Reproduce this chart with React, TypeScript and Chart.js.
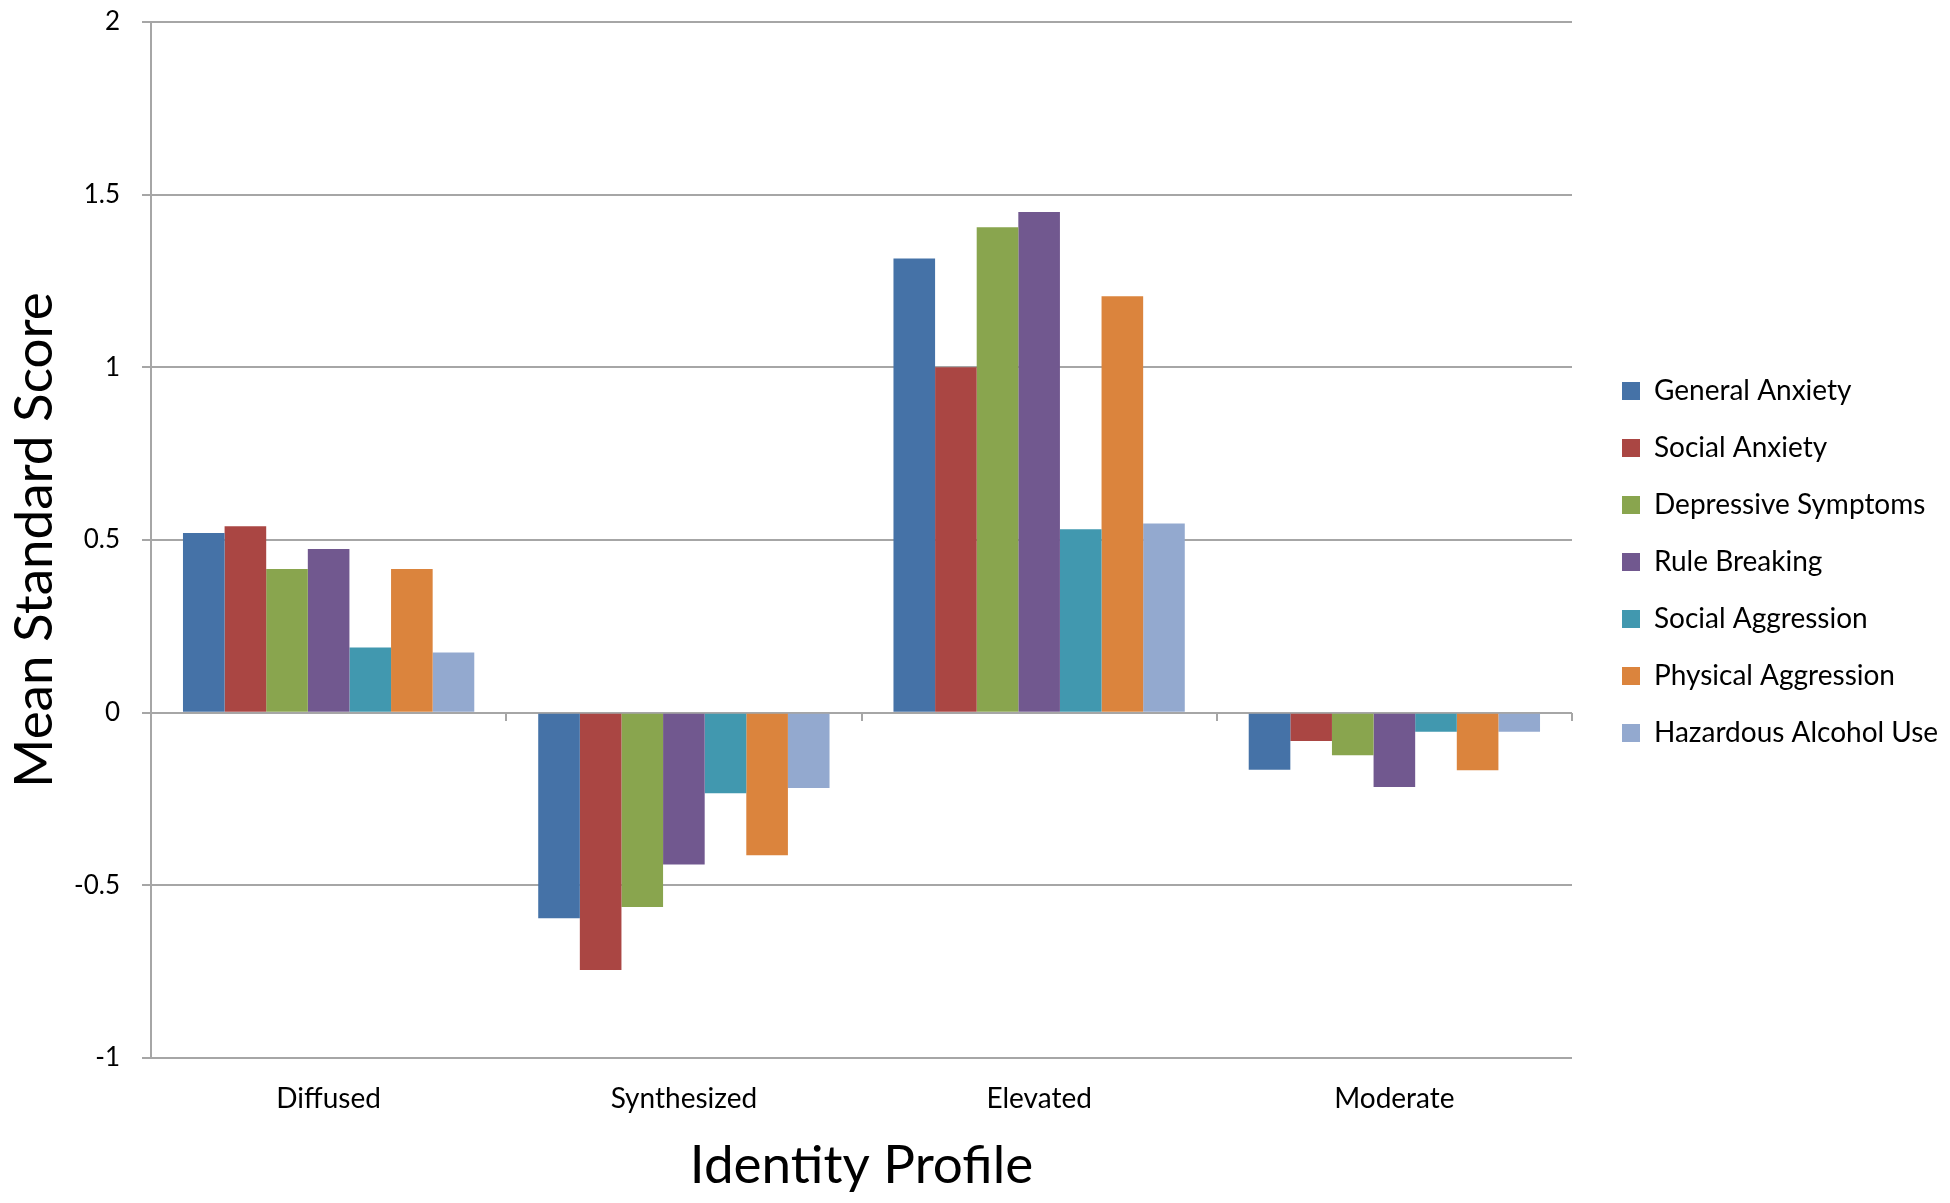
import React, { useEffect, useRef } from 'react';
import { Chart, registerables } from 'chart.js';

Chart.register(...registerables);

// ---- data ----
const categories = ['Diffused', 'Synthesized', 'Elevated', 'Moderate'];
const seriesNames = [
  'General Anxiety',
  'Social Anxiety',
  'Depressive Symptoms',
  'Rule Breaking',
  'Social Aggression',
  'Physical Aggression',
  'Hazardous Alcohol Use',
];
const generalAnxiety = [0.52, -0.595, 1.315, -0.165];
const socialAnxiety = [0.54, -0.745, 1.0, -0.082];
const depressiveSymptoms = [0.416, -0.563, 1.406, -0.123];
const ruleBreaking = [0.474, -0.44, 1.45, -0.215];
const socialAggression = [0.189, -0.233, 0.531, -0.055];
const physicalAggression = [0.416, -0.413, 1.206, -0.167];
const hazardousAlcoholUse = [0.174, -0.218, 0.548, -0.055];
const seriesValues = [
  generalAnxiety,
  socialAnxiety,
  depressiveSymptoms,
  ruleBreaking,
  socialAggression,
  physicalAggression,
  hazardousAlcoholUse,
];
const seriesColors = ['#4572A7', '#AA4643', '#89A54E', '#71588F', '#4198AF', '#DB843D', '#93A9CF'];
const yMin = -1;
const yMax = 2;
const yStep = 0.5;

// ---- style ----
const FONT = "Lato, 'Open Sans', sans-serif";
const GRID = '#a6a6a6';
const CANVAS_W = 1934;
const CANVAS_H = 1187;
const LEGEND_FONT = 28;
const LEGEND_PAD = 29;

const legendPlace = {
  id: 'legendPlace',
  afterLayout(chart: any) {
    const lg = chart.legend;
    if (!lg) return;
    const ca = chart.chartArea;
    const w = lg.width;
    lg.left = ca.right + 50 - LEGEND_PAD;
    lg.right = lg.left + w;
    lg.top = 383 - LEGEND_FONT / 2 - LEGEND_PAD;
    lg.bottom = lg.top + 700;
    lg.height = 700;
  },
};

export default function App() {
  const ref = useRef<HTMLCanvasElement>(null);

  useEffect(() => {
    const canvas = ref.current;
    if (!canvas) return;
    const chart = new Chart(canvas, {
      type: 'bar',
      data: {
        labels: categories,
        datasets: seriesNames.map((name, i) => ({
          label: name,
          data: seriesValues[i],
          backgroundColor: seriesColors[i],
          borderWidth: 0,
          barPercentage: 1,
          categoryPercentage: 0.82,
          xAxisID: 'x',
          yAxisID: 'y',
        })),
      },
      options: {
        responsive: false,
        animation: false,
        events: [],
        layout: { padding: { top: 14, right: 370, bottom: 0, left: 0 } },
        plugins: {
          legend: {
            display: true,
            position: 'chartArea' as any,
            align: 'start',
            labels: {
              boxWidth: 18,
              boxHeight: 18,
              padding: LEGEND_PAD,
              color: '#000',
              font: { family: FONT, size: LEGEND_FONT },
            },
          },
          tooltip: { enabled: false },
        },
        scales: {
          x: {
            type: 'category',
            position: 'bottom',
            offset: true,
            grid: { display: false, drawTicks: false, offset: true },
            border: { display: false },
            ticks: { font: { family: FONT, size: 28 }, color: '#000', padding: 24 },
            title: {
              display: true,
              text: 'Identity Profile',
              color: '#000',
              font: { family: FONT, size: 53, lineHeight: 0.95 },
              padding: { top: 0, bottom: 4 },
            },
            afterFit: (s: any) => {
              s.height = 137;
            },
          },
          x2: {
            type: 'category',
            position: { y: 0 } as any,
            offset: true,
            grid: {
              display: true,
              offset: true,
              drawOnChartArea: false,
              drawTicks: true,
              tickLength: 8,
              color: GRID,
              lineWidth: 2,
            },
            border: { display: false },
            ticks: { display: false },
          },
          y: {
            type: 'linear',
            min: yMin,
            max: yMax,
            ticks: {
              stepSize: yStep,
              font: { family: FONT, size: 26, lineHeight: 1.0 },
              color: '#000',
              padding: 22,
              callback: (v: any) => String(Number(v)),
            },
            grid: { color: GRID, lineWidth: 2, drawTicks: true, tickLength: 9 },
            border: { display: true, color: GRID, width: 2 },
            title: {
              display: true,
              text: 'Mean Standard Score',
              color: '#000',
              font: { family: FONT, size: 53, lineHeight: 0.95 },
              padding: { top: 2, bottom: 0 },
            },
            afterFit: (s: any) => {
              s.width = 143;
              s.paddingTop = 13;
              s.paddingBottom = 13;
            },
          },
        },
      },
      plugins: [legendPlace],
    });
    return () => chart.destroy();
  }, []);

  return (
    <div style={{ width: CANVAS_W, height: CANVAS_H }}>
      <canvas ref={ref} width={CANVAS_W} height={CANVAS_H} style={{ display: 'block' }} />
    </div>
  );
}
